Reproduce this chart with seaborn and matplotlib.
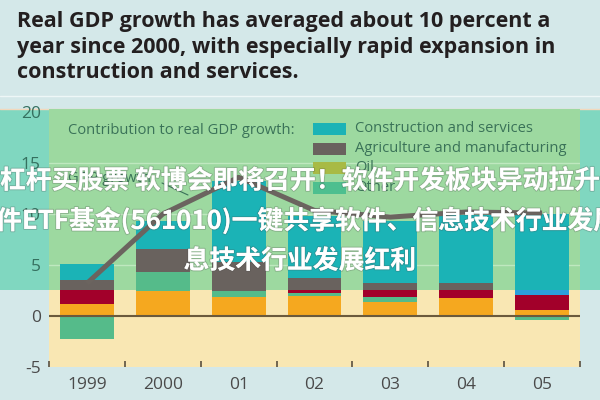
import matplotlib
matplotlib.use("Agg")
import matplotlib.pyplot as plt
import matplotlib.patheffects as pe
from matplotlib.patches import Rectangle
from matplotlib.lines import Line2D
import numpy as np
import seaborn as sns

# Data (percentage point contributions to real GDP growth)
years = ['1999', '2000', '01', '02', '03', '04', '05']
oil = [1.15, 2.5, 1.85, 1.95, 1.4, 1.8, 0.6]
other = [-2.3, 1.85, 0.6, 0.35, 0.5, 0.0, -0.4]
red_part = [1.4, 0.0, 0.0, 0.25, 0.65, 0.75, 1.45]
blue_part = [0.0, 0.0, 0.0, 0.0, 0.0, 0.0, 0.5]
agriculture = [1.0, 2.25, 2.85, 1.15, 0.65, 0.65, 0.0]
construction = [1.55, 2.7, 7.9, 6.1, 6.1, 6.7, 7.5]
gdp_growth = [3.2, 10.0, 13.6, 10.35, 9.7, 10.2, 10.1]

title_lines = ["Real GDP growth has averaged about 10 percent a",
               "year since 2000, with especially rapid expansion in",
               "construction and services."]
legend_labels = ["Construction and services", "Agriculture and manufacturing", "Oil", "Other"]
watermark = ["杠杆买股票 软博会即将召开！软件开发板块异动拉升",
             "件ETF基金(561010)一键共享软件、信息技术行业发展",
             "息技术行业发展红利"]

c_teal = '#1bb3b6'
c_gray = '#69625e'
c_orange = '#f5a81f'
c_red = '#a2002a'
c_blue = '#2b9fdc'
c_green = '#55bb8a'
c_bg = '#d4e8e9'
c_cream = '#f9e7b3'
c_band_in = '#9dd9a0'
c_band_out = '#80d7c0'
c_text_band = '#3a7258'

W, H = 600, 400
def fx(x):
    return x / W
def fy(y):
    return 1 - y / H

sns.set_style("white")
fig = plt.figure(figsize=(6, 4), dpi=100)
fig.patch.set_facecolor(c_bg)
ax = fig.add_axes([fx(49), fy(367), fx(580) - fx(49), fy(109) - fy(367)])
ax.set_facecolor(c_cream)
for s in ax.spines.values():
    s.set_visible(False)

# green band behind the upper part of the chart
fig.add_artist(Rectangle((0, fy(290)), 1, fy(109) - fy(290), transform=fig.transFigure,
                         facecolor=c_band_out, edgecolor='none', zorder=-1))
fig.add_artist(Line2D([0, 1], [fy(108.5), fy(108.5)], transform=fig.transFigure,
                      color='#f2d8bc', lw=1, zorder=-1))
fig.add_artist(Line2D([0, 1], [fy(96), fy(96)], transform=fig.transFigure,
                      color='#eef7f7', lw=1, zorder=-1))
ax.axhspan(2.55, 21, color=c_band_in, lw=0, zorder=0)
for g in [5, 10, 15]:
    ax.axhline(g, color='#bfe8bf', lw=1, zorder=0.5)

# stacked bars: cumulative layers drawn from the top of the stack down
pos_other = np.clip(other, 0, None)
neg_other = np.clip(other, None, 0)
layers = [oil, pos_other, red_part, blue_part, agriculture, construction]
colors = [c_orange, c_green, c_red, c_blue, c_gray, c_teal]
cum = np.cumsum(np.array(layers, dtype=float), axis=0)
for i in range(len(layers) - 1, -1, -1):
    sns.barplot(x=years, y=cum[i], color=colors[i], width=0.71, saturation=1,
                errorbar=None, ax=ax, zorder=2, lw=0)
sns.barplot(x=years, y=neg_other, color=c_green, width=0.71, saturation=1,
            errorbar=None, ax=ax, zorder=2, lw=0)

sns.lineplot(x=np.arange(len(years)), y=gdp_growth, color='#6b645f', lw=3.6,
             ax=ax, zorder=3, solid_capstyle='butt')
ax.axhline(0, color='#6b5a3c', lw=1.5, zorder=4)

ax.set_xlim(-0.5, 6.5)
ax.set_ylim(-5, 20.3)
ax.set_xlabel('')
ax.set_ylabel('')
ax.set_yticks([-5, 0, 5, 10, 15, 20])
ax.set_yticklabels(['-5', '0', '5', '10', '15', '20'])
ax.set_xticks(range(len(years)))
ax.set_xticklabels(years)
ax.set_xticks(np.arange(-0.5, 7, 1), minor=True)
ax.tick_params(axis='x', which='major', length=0, pad=7, labelsize=12.5)
ax.tick_params(axis='x', which='minor', length=4, width=1.2, direction='in',
               color='#5a5040', bottom=True)
ax.tick_params(axis='y', length=0, pad=6, labelsize=12.5)
for lab in ax.get_xticklabels() + ax.get_yticklabels():
    lab.set_fontfamily('Open Sans')
    lab.set_color('#4a4a4a')
for lab in ax.get_yticklabels()[2:]:
    lab.set_color('#35705f')
ax.grid(False)

# title
for i, t in enumerate(title_lines):
    fig.text(fx(17), fy(22 + 25.5 * i), t, ha='left', va='center', fontsize=15.5,
             fontweight='bold', color='#231f20', family='Open Sans')

# annotations
fig.text(fx(68), fy(131), "Contribution to real GDP growth:", ha='left', va='center',
         fontsize=10.6, color=c_text_band, family='Open Sans')
fig.text(fx(68), fy(178), "GDP growth", ha='left', va='center',
         fontsize=10.6, color=c_text_band, family='Open Sans')
fig.add_artist(Line2D([fx(162), fx(188)], [fy(183), fy(195)], transform=fig.transFigure,
                      color=c_text_band, lw=0.8, zorder=3))

# legend, drawn row by row so the swatches sit where the original has them
handle_colors = [c_teal, c_gray, '#a8ba45', '#4dbf8f']
for i, (lab, col) in enumerate(zip(legend_labels, handle_colors)):
    yc = 129 + 19.5 * i
    fig.add_artist(Rectangle((fx(313), fy(yc + 6)), fx(346) - fx(313), fy(yc - 6) - fy(yc + 6),
                             transform=fig.transFigure, facecolor=col, edgecolor='none', zorder=3))
    fig.text(fx(355), fy(yc), lab, ha='left', va='center', fontsize=10.6,
             color=c_text_band, family='Open Sans', zorder=3)

# overlaid watermark text
shadow = [pe.withStroke(linewidth=1.5, foreground=(0.3, 0.3, 0.3, 0.25))]
wm_pos = [(0, 181, 'left'), (-4, 221, 'left'), (300, 261, 'center')]
for (x, y, ha), t in zip(wm_pos, watermark):
    fig.text(fx(x), fy(y), t, ha=ha, va='center', fontsize=18.6, fontweight='bold',
             color='white', family=['Noto Sans CJK SC', 'DejaVu Sans'],
             path_effects=shadow, zorder=10)

fig.savefig('out.png', dpi=100, facecolor=fig.get_facecolor())
